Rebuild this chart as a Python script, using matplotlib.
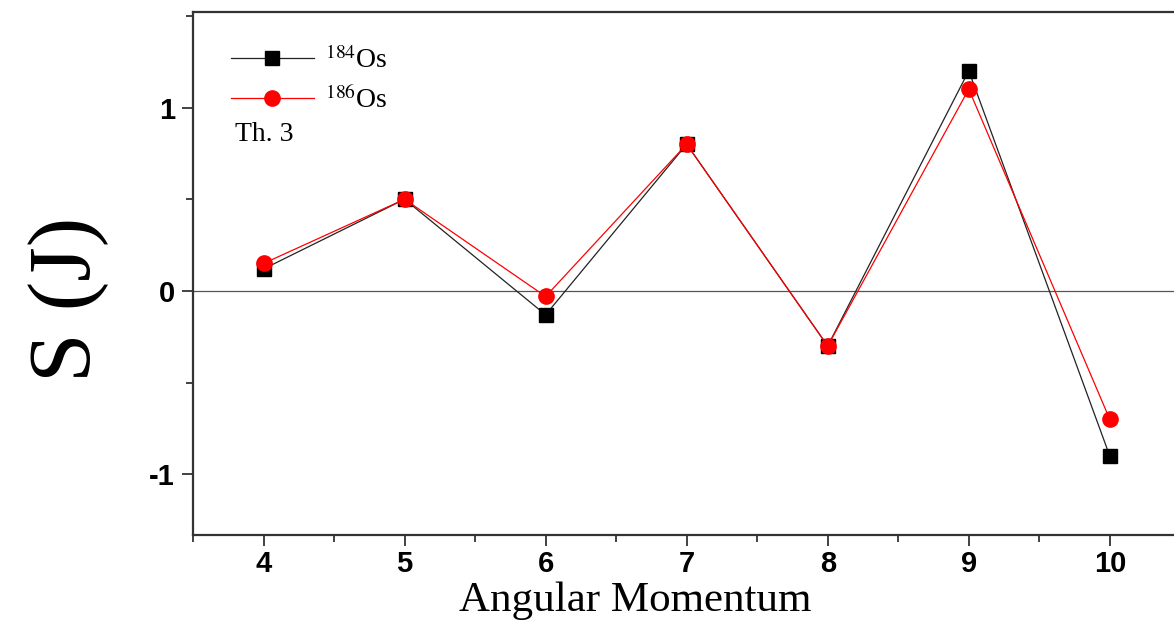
import matplotlib
matplotlib.use("Agg")
import matplotlib.pyplot as plt
from matplotlib.ticker import MultipleLocator

# data
J = [4, 5, 6, 7, 8, 9, 10]
s_os184 = [0.12, 0.50, -0.13, 0.80, -0.30, 1.20, -0.90]
s_os186 = [0.15, 0.50, -0.03, 0.80, -0.30, 1.10, -0.70]
label_184 = r"$^{184}$Os"
label_186 = r"$^{186}$Os"
note = "Th. 3"

plt.rcParams["mathtext.fontset"] = "stix"
plt.rcParams["axes.unicode_minus"] = False

fig = plt.figure(figsize=(11.74, 6.3), dpi=100)
ax = fig.add_axes([0.1644, 0.1508, 0.841, 0.830])

ax.axhline(0, color="#555555", lw=0.9, zorder=1)
ax.plot(J, s_os184, color="#222222", lw=0.9, marker="s", ms=10,
        mfc="black", mec="black", label=label_184, zorder=3)
ax.plot(J, s_os186, color="red", lw=0.9, marker="o", ms=11,
        mfc="red", mec="red", label=label_186, zorder=4)

ax.set_xlim(3.5, 10.5)
ax.set_ylim(-1.33, 1.52)
ax.xaxis.set_major_locator(MultipleLocator(1))
ax.xaxis.set_minor_locator(MultipleLocator(0.5))
ax.yaxis.set_major_locator(MultipleLocator(1))
ax.yaxis.set_minor_locator(MultipleLocator(0.5))
ax.tick_params(which="both", direction="out", width=1.3, color="#333333")
ax.tick_params(which="major", length=8, pad=3)
ax.tick_params(which="minor", length=5)
ax.tick_params(axis="y", which="major", pad=5)
ax.tick_params(top=False, right=False)

for lab in ax.get_xticklabels() + ax.get_yticklabels():
    lab.set_family("Liberation Sans")
    lab.set_fontweight("bold")
    lab.set_fontsize(21)

for sp in ax.spines.values():
    sp.set_linewidth(1.6)
    sp.set_color("#333333")

ax.set_xlabel("Angular Momentum", family="Liberation Serif", fontsize=31)
ax.xaxis.set_label_coords(0.448, -0.089)
ax.set_ylabel("S (J)", family="Liberation Serif", fontsize=64)
ax.yaxis.set_label_coords(-0.085, 0.45)

leg = ax.legend(loc="upper left", bbox_to_anchor=(0.038, 0.935), frameon=False,
                prop={"family": "Liberation Serif", "size": 20},
                handlelength=3.0, handletextpad=0.4, labelspacing=0.45,
                borderpad=0, borderaxespad=0)
ax.text(0.043, 0.765, note, transform=ax.transAxes, family="Liberation Serif",
        fontsize=20, va="center", ha="left")

fig.savefig("out.png", dpi=100)
